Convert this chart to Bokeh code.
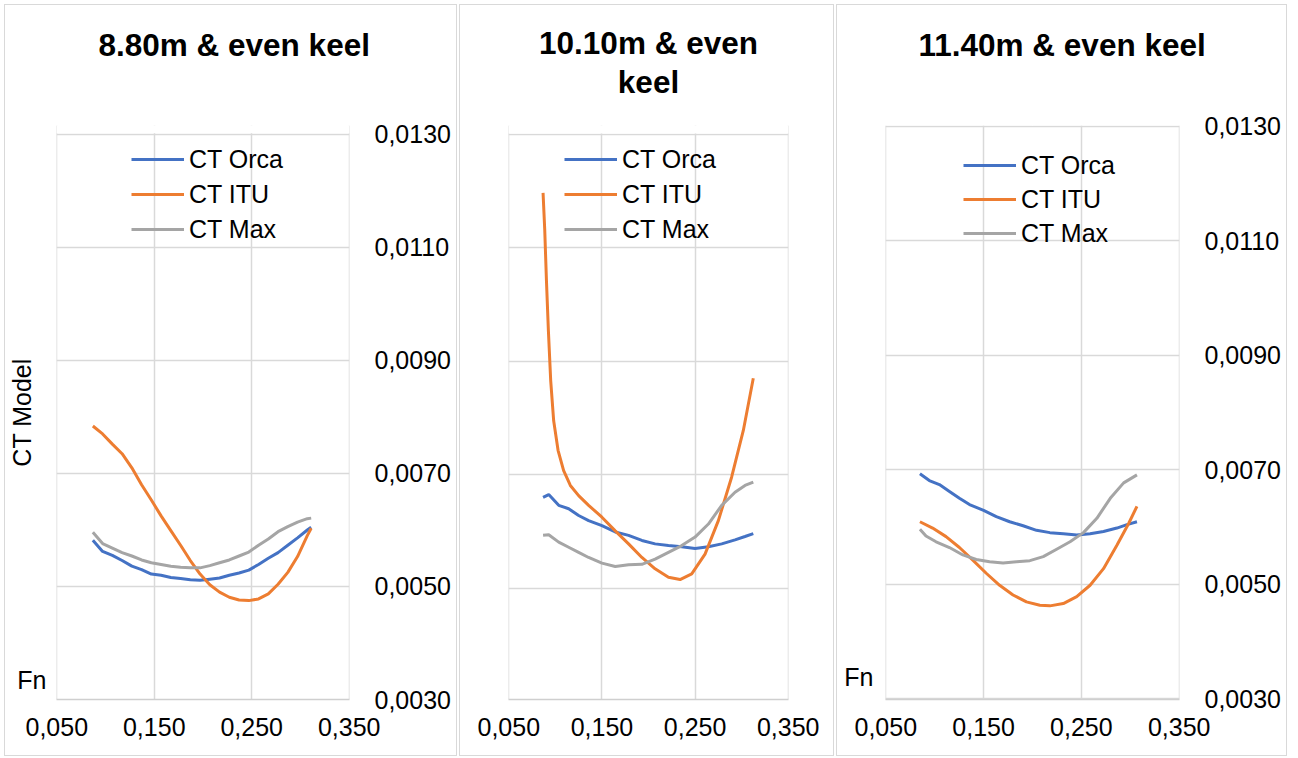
from bokeh.plotting import figure
from bokeh.models import LinearAxis, Grid, FixedTicker, Range1d, Title, BoxAnnotation
from bokeh.layouts import row
from bokeh.embed import file_html
from bokeh.resources import INLINE

FONT = "Liberation Sans"
C_ORCA, C_ITU, C_MAX = "#4472C4", "#ED7D31", "#A5A5A5"
GRID_C = "#d9d9d9"

SERIES_NAMES = ["CT Orca", "CT ITU", "CT Max"]
X_TICKS = [0.05, 0.15, 0.25, 0.35]
X_LABELS = ["0,050", "0,150", "0,250", "0,350"]
Y_TICKS = [0.003, 0.005, 0.007, 0.009, 0.011, 0.013]
Y_LABELS = ["0,0030", "0,0050", "0,0070", "0,0090", "0,0110", "0,0130"]
TITLES = [["8.80m & even keel"], ["10.10m & even", "keel"], ["11.40m & even keel"]]
Y_TITLE = "CT Model"
X_TITLE = "Fn"

# ---- Panel 1 : 8.80 m ----
P1_FN = [0.087, 0.097, 0.107, 0.117, 0.127, 0.137, 0.147, 0.157, 0.167, 0.177, 0.187, 0.197,
         0.207, 0.217, 0.227, 0.237, 0.247, 0.257, 0.267, 0.277, 0.287, 0.297, 0.307, 0.311]
P1_ORCA = [0.00582, 0.00562, 0.00555, 0.00546, 0.00536, 0.00530, 0.00522, 0.00520, 0.00516, 0.00514,
           0.00512, 0.00511, 0.00513, 0.00515, 0.00520, 0.00524, 0.00529, 0.00539, 0.00550, 0.00560,
           0.00573, 0.00586, 0.00600, 0.00605]
P1_ITU = [0.00784, 0.00770, 0.00752, 0.00735, 0.00710, 0.00680, 0.00653, 0.00625, 0.00599, 0.00573,
          0.00546, 0.00522, 0.00503, 0.00490, 0.00481, 0.00476, 0.00475, 0.00478, 0.00487, 0.00504,
          0.00525, 0.00553, 0.00590, 0.00603]
P1_MAX = [0.00596, 0.00576, 0.00568, 0.00560, 0.00554, 0.00547, 0.00542, 0.00539, 0.00536, 0.00534,
          0.00533, 0.00533, 0.00537, 0.00542, 0.00547, 0.00554, 0.00561, 0.00573, 0.00584, 0.00597,
          0.00606, 0.00614, 0.00620, 0.00621]

# ---- Panel 2 : 10.10 m ----
P2_FN = [0.0868, 0.0929, 0.1036, 0.1143, 0.1250, 0.1357, 0.1500, 0.1643, 0.1786, 0.1929,
         0.2071, 0.2214, 0.2357, 0.2500, 0.2643, 0.2786, 0.2929, 0.3036, 0.3125]
P2_ORCA = [0.00660, 0.00665, 0.00646, 0.00640, 0.00628, 0.00619, 0.00610, 0.00599, 0.00593, 0.00584,
           0.00578, 0.00575, 0.00573, 0.00570, 0.00573, 0.00578, 0.00585, 0.00591, 0.00596]
P2_MAX = [0.00593, 0.00594, 0.00581, 0.00572, 0.00563, 0.00554, 0.00544, 0.00538, 0.00541, 0.00542,
          0.00551, 0.00563, 0.00575, 0.00590, 0.00613, 0.00646, 0.00669, 0.00681, 0.00687]
P2_ITU_FN = [0.0868, 0.0886, 0.0904, 0.0925, 0.0950, 0.0982, 0.1029, 0.1089, 0.1161, 0.1250,
             0.1357, 0.1500, 0.1643, 0.1786, 0.1929, 0.2071, 0.2214, 0.2339, 0.2464, 0.2607,
             0.2750, 0.2893, 0.3018, 0.3125]
P2_ITU = [0.01197, 0.01132, 0.01044, 0.00955, 0.00866, 0.00795, 0.00743, 0.00707, 0.00681, 0.00663,
          0.00646, 0.00625, 0.00601, 0.00578, 0.00554, 0.00534, 0.00519, 0.00515, 0.00525, 0.00560,
          0.00619, 0.00696, 0.00778, 0.00870]

# ---- Panel 3 : 11.40 m ----
P3_ORCA_FN = [0.0849, 0.0945, 0.1048, 0.1151, 0.1253, 0.1356, 0.1500, 0.1630, 0.1767, 0.1904,
              0.2041, 0.2178, 0.2315, 0.2452, 0.2589, 0.2726, 0.2863, 0.2966, 0.3068]
P3_ORCA = [0.00693, 0.00681, 0.00674, 0.00662, 0.00650, 0.00639, 0.00629, 0.00618, 0.00609, 0.00602,
           0.00594, 0.00590, 0.00588, 0.00586, 0.00588, 0.00592, 0.00598, 0.00604, 0.00609]
P3_MAX_FN = [0.0849, 0.0911, 0.1014, 0.1151, 0.1288, 0.1425, 0.1562, 0.1699, 0.1836, 0.1973,
             0.2110, 0.2247, 0.2384, 0.2521, 0.2658, 0.2795, 0.2932, 0.3068]
P3_MAX = [0.00596, 0.00584, 0.00574, 0.00564, 0.00551, 0.00543, 0.00539, 0.00537, 0.00539, 0.00541,
          0.00548, 0.00561, 0.00574, 0.00590, 0.00615, 0.00650, 0.00677, 0.00691]
P3_ITU_FN = [0.0849, 0.0979, 0.1116, 0.1253, 0.1390, 0.1527, 0.1664, 0.1801, 0.1938, 0.2075,
             0.2178, 0.2315, 0.2452, 0.2589, 0.2726, 0.2863, 0.2983, 0.3068]
P3_ITU = [0.00609, 0.00598, 0.00583, 0.00564, 0.00542, 0.00519, 0.00498, 0.00481, 0.00469, 0.00463,
          0.00462, 0.00466, 0.00478, 0.00498, 0.00527, 0.00568, 0.00606, 0.00636]

# position (in CT units) of the free-floating "Fn" caption of panels 1 and 3
FN_CAPTION_Y = [0.00334, 0.00337]

# view windows (a hair beyond the gridlines so the edge gridlines are drawn)
X_VIEW = (0.0497, 0.3503)
Y_VIEWS = [(0.003, 0.013159), (0.003035, 0.013159), (0.002983, 0.013017)]


def style_text_axis(ax):
    ax.axis_line_color = None
    ax.major_tick_line_color = None
    ax.minor_tick_line_color = None
    ax.major_tick_out = 0
    ax.major_tick_in = 0
    ax.minor_tick_out = 0
    ax.minor_tick_in = 0
    ax.major_label_text_font = FONT
    ax.major_label_text_font_size = "25px"
    ax.major_label_text_color = "black"


def make_panel(width, y_view, title_lines, title_align, title_offset, title_standoffs, top_gap,
               series, legend_xy, legend_spacing, right_labels, left_label, fn_y, fn_standoff,
               margin, hide_above_top):
    p = figure(width=width, height=752, output_backend="svg", toolbar_location=None,
               x_axis_type=None, y_axis_type=None,
               x_range=Range1d(*X_VIEW), y_range=Range1d(*y_view),
               min_border_left=48, min_border_right=47 if not right_labels else 109,
               min_border_top=120, min_border_bottom=58,
               background_fill_color="white", border_fill_color="white")
    p.outline_line_color = None
    p.margin = margin
    p.styles = {"border": "1px solid #d9d9d9"}

    # empty gap between the chart title and the plot area: an axis whose only
    # tick is white and whose tick label is empty
    gap = LinearAxis(ticker=FixedTicker(ticks=[0.2]), major_label_overrides={0.2: ""})
    style_text_axis(gap)
    gap.major_tick_line_color = "white"
    gap.major_tick_line_width = 1
    gap.major_label_standoff = 0
    gap.major_label_text_font_size = "1px"
    gap.major_tick_out = top_gap
    p.add_layout(gap, "above")

    # title lines: last one added is the outermost (top) line
    for txt, so in reversed(list(zip(title_lines, title_standoffs))):
        p.add_layout(Title(text=txt, text_font=FONT, text_font_size="31.5px",
                           text_font_style="bold", text_color="black", align=title_align,
                           offset=title_offset, vertical_align="bottom", standoff=so), "above")

    p.add_layout(Grid(dimension=0, ticker=FixedTicker(ticks=X_TICKS),
                      grid_line_color=GRID_C, grid_line_width=1.5))
    p.add_layout(Grid(dimension=1, ticker=FixedTicker(ticks=Y_TICKS),
                      grid_line_color=GRID_C, grid_line_width=1.5))
    if hide_above_top:
        p.add_layout(BoxAnnotation(bottom=Y_TICKS[-1] + 0.00002, fill_color="white",
                                   fill_alpha=1.0, line_color=None))

    xax = LinearAxis(ticker=FixedTicker(ticks=X_TICKS),
                     major_label_overrides=dict(zip(X_TICKS, X_LABELS)))
    style_text_axis(xax)
    xax.axis_line_color = "#cfcfcf"
    xax.axis_line_width = 1.5
    xax.major_label_standoff = 18
    p.add_layout(xax, "below")

    if right_labels:
        yax = LinearAxis(ticker=FixedTicker(ticks=Y_TICKS),
                         major_label_overrides=dict(zip(Y_TICKS, Y_LABELS)))
        style_text_axis(yax)
        yax.major_label_standoff = 25
        p.add_layout(yax, "right")

    if fn_y is not None:
        lax = LinearAxis(ticker=FixedTicker(ticks=[fn_y]),
                         major_label_overrides={fn_y: X_TITLE})
        style_text_axis(lax)
        lax.major_label_standoff = fn_standoff
        if left_label:
            lax.axis_label = left_label
            lax.axis_label_standoff = -22
            lax.axis_label_text_font = FONT
            lax.axis_label_text_font_size = "25px"
            lax.axis_label_text_font_style = "normal"
            lax.axis_label_text_color = "black"
        p.add_layout(lax, "left")

    for (xs, ys, color, name) in series:
        p.line(xs, ys, line_color=color, line_width=3, legend_label=name)

    lg = p.legend[0]
    lg.location = legend_xy
    lg.border_line_color = None
    lg.background_fill_alpha = 0
    lg.label_text_font = FONT
    lg.label_text_font_size = "25px"
    lg.label_text_color = "black"
    lg.glyph_width = 53
    lg.glyph_height = 30
    lg.label_height = 30
    lg.label_standoff = 5
    lg.spacing = legend_spacing
    lg.padding = 0
    lg.margin = 0
    return p


p1 = make_panel(453, Y_VIEWS[0], TITLES[0], "left", 42, [30], 48,
                [(P1_FN, P1_ORCA, C_ORCA, SERIES_NAMES[0]),
                 (P1_FN, P1_ITU, C_ITU, SERIES_NAMES[1]),
                 (P1_FN, P1_MAX, C_MAX, SERIES_NAMES[2])],
                (75, 455), 5, True, Y_TITLE, FN_CAPTION_Y[0], 10, (4, 0, 0, 4), True)

p2 = make_panel(375, Y_VIEWS[1], TITLES[1], "center", 0, [0, 2], 25,
                [(P2_FN, P2_ORCA, C_ORCA, SERIES_NAMES[0]),
                 (P2_ITU_FN, P2_ITU, C_ITU, SERIES_NAMES[1]),
                 (P2_FN, P2_MAX, C_MAX, SERIES_NAMES[2])],
                (56, 455), 5, False, None, None, 0, (4, 0, 0, 2), True)

p3 = make_panel(451, Y_VIEWS[2], TITLES[2], "left", 33, [30], 48,
                [(P3_ORCA_FN, P3_ORCA, C_ORCA, SERIES_NAMES[0]),
                 (P3_ITU_FN, P3_ITU, C_ITU, SERIES_NAMES[1]),
                 (P3_MAX_FN, P3_MAX, C_MAX, SERIES_NAMES[2])],
                (78, 451), 4, True, None, FN_CAPTION_Y[1], 12, (4, 0, 0, 2), False)

layout = row(p1, p2, p3)
open("out.html", "w").write(file_html(layout, INLINE))
